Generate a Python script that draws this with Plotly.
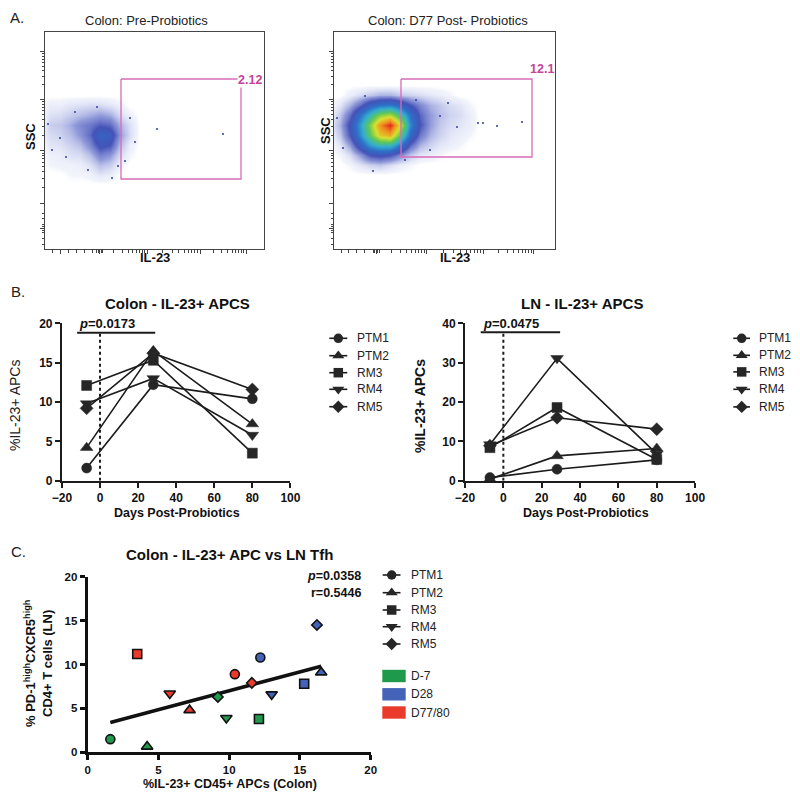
import math
import plotly.graph_objects as go

FONT = "Liberation Sans, Arial, Helvetica, sans-serif"
# The page body offsets the figure by 8px; the figure is sized so the page needs
# no scrollbars.  All coordinates below are page pixels.
OFF = 8
W, H = 784, 783

# ------------------------------------------------------------------ data
subjects = ["PTM1", "PTM2", "RM3", "RM4", "RM5"]
days = [-7, 28, 80]
day_labels = ["D-7", "D28", "D77/80"]
day_colors = ["#1f9a4c", "#4263b8", "#ea3a2c"]

# Panel B, Colon IL-23+ APCs (%), rows = subjects, cols = days
colon_il23 = [
    [1.6, 12.2, 10.4],
    [4.2, 16.5, 7.2],
    [12.1, 15.3, 3.5],
    [9.8, 13.0, 5.8],
    [9.2, 16.2, 11.6],
]
# Panel B, LN IL-23+ APCs (%)
ln_il23 = [
    [0.8, 2.9, 5.3],
    [0.4, 6.3, 8.2],
    [8.4, 18.6, 5.4],
    [9.2, 31.1, 6.8],
    [8.9, 16.0, 13.1],
]
# Panel C, LN Tfh (%) vs colon IL-23+ APCs
ln_tfh = [
    [1.5, 10.8, 8.9],
    [0.65, 9.1, 4.8],
    [3.8, 7.8, 11.2],
    [3.9, 6.6, 6.7],
    [6.3, 14.5, 7.9],
]
colon_p_text, colon_p_span, colon_p_level = "0.0173", [-12, 29], 18.8
ln_p_text, ln_p_span, ln_p_level = "0.0475", [-11.8, 29.6], 37.7
corr_p_text, corr_r_text = "0.0358", "0.5446"
fit_x = [1.6, 16.5]
fit_y = [3.4, 9.8]

# Panel A, flow plots (channel units), gates and event densities
gate_pre_pct, gate_post_pct = "2.12", "12.1"
gate_pre_x, gate_pre_y = [121, 241], [79, 179]
gate_post_x, gate_post_y = [401, 532], [79, 157]

pre_x = [40, 50, 60, 70, 80, 90, 100, 110, 120, 130, 140]
pre_y = [95, 105, 115, 125, 135, 145, 155, 165, 175, 185]
pre_density = [
    [0, 0, 0, 0, 0, 0, 0, 0, 0, 0, 0],
    [0, 0.2, 0.2, 0.3, 0.35, 0.4, 0.4, 0.3, 0.15, 0, 0],
    [0, 0.35, 0.4, 0.55, 0.7, 0.85, 1.0, 0.85, 0.4, 0.15, 0],
    [0, 0.55, 0.6, 0.85, 1.2, 1.4, 1.7, 1.55, 0.8, 0.35, 0],
    [0.15, 0.4, 0.5, 0.7, 1.05, 1.55, 2.6, 2.3, 1.0, 0.4, 0],
    [0, 0.3, 0.35, 0.5, 0.7, 1.2, 2.0, 1.8, 0.7, 0.2, 0],
    [0, 0.15, 0.2, 0.35, 0.4, 0.7, 1.3, 1.05, 0.4, 0.1, 0],
    [0, 0.1, 0.15, 0.15, 0.2, 0.35, 0.7, 0.55, 0.15, 0, 0],
    [0, 0, 0, 0.1, 0.1, 0.15, 0.3, 0.2, 0, 0, 0],
    [0, 0, 0, 0, 0, 0, 0, 0, 0, 0, 0],
]
pre_sparse_x = [157, 223, 125, 135, 48, 52, 66, 88, 130, 112, 75, 60, 97, 118]
pre_sparse_y = [129, 134, 161, 142, 124, 150, 157, 170, 118, 178, 112, 138, 107, 166]

post_x = [330, 340, 350, 360, 370, 380, 390, 400, 410, 420, 430, 440, 450, 460, 470, 480]
post_y = [85, 95, 105, 115, 125, 135, 145, 155, 165, 175]
post_density = [
    [0, 0, 0, 0, 0, 0, 0, 0, 0, 0, 0, 0, 0, 0, 0, 0],
    [0, 0, 0.2, 0.4, 0.6, 0.8, 0.8, 0.6, 0.5, 0.4, 0.3, 0.2, 0.1, 0, 0, 0],
    [0, 0.3, 0.8, 1.5, 2.5, 3.0, 3.2, 2.6, 1.8, 1.2, 0.8, 0.6, 0.4, 0.3, 0.1, 0],
    [0.1, 0.6, 1.5, 3.0, 4.5, 6.0, 6.5, 5.0, 3.0, 1.6, 1.0, 0.7, 0.5, 0.4, 0.2, 0],
    [0.2, 0.8, 2.0, 3.8, 6.0, 8.5, 10.0, 7.0, 3.5, 1.8, 1.0, 0.6, 0.4, 0.3, 0.2, 0],
    [0.1, 0.6, 1.8, 3.5, 5.5, 7.5, 8.0, 5.5, 2.8, 1.4, 0.8, 0.5, 0.3, 0.2, 0.1, 0],
    [0, 0.3, 1.0, 2.4, 3.8, 4.5, 4.5, 3.2, 1.6, 0.8, 0.5, 0.3, 0.2, 0.1, 0, 0],
    [0, 0.1, 0.4, 1.0, 1.8, 2.0, 1.8, 1.2, 0.6, 0.3, 0.2, 0.1, 0, 0, 0, 0],
    [0, 0, 0.1, 0.3, 0.5, 0.6, 0.4, 0.2, 0.1, 0, 0, 0, 0, 0, 0, 0],
    [0, 0, 0, 0, 0, 0, 0, 0, 0, 0, 0, 0, 0, 0, 0, 0],
]
post_sparse_x = [478, 483, 457, 430, 373, 343, 522, 497, 440, 337, 416, 448, 405, 365]
post_sparse_y = [123, 123, 127, 150, 171, 148, 122, 126, 116, 118, 100, 103, 160, 96]

# ------------------------------------------------------------------ styles
symbols = ["circle", "triangle-up", "square", "triangle-down", "diamond"]
b_sizes = [10, 11, 10, 11, 10]
c_sizes = [9, 10, 9, 10, 8]
INK = "#1c1c1c"
PINK_TXT = "#c4449a"
PINK_LINE = "#d86bb6"

flow_cs = [
    [0.0, "rgba(255,255,255,0)"],
    [0.01, "rgba(150,165,225,0.12)"],
    [0.05, "rgba(100,115,205,0.32)"],
    [0.10, "rgba(65,80,190,0.58)"],
    [0.18, "rgba(44,60,174,0.88)"],
    [0.30, "#2e6fc8"],
    [0.42, "#33b0cc"],
    [0.55, "#5cc65a"],
    [0.70, "#d8e030"],
    [0.85, "#f09020"],
    [1.0, "#e02818"],
]


def px_x(p):
    return (p - OFF) / W


def px_y(p):
    return 1 - (p - OFF) / H


fig = go.Figure()

# ------------------------------------------------------------------ panel A
for (ax, ay, gx, gy, dx, dy, dz, sx, sy) in [
    ("x", "y", gate_pre_x, gate_pre_y, pre_x, pre_y, pre_density, pre_sparse_x, pre_sparse_y),
    ("x2", "y2", gate_post_x, gate_post_y, post_x, post_y, post_density, post_sparse_x, post_sparse_y),
]:
    fig.add_trace(go.Heatmap(x=dx, y=dy, z=dz, zmin=0, zmax=10, colorscale=flow_cs,
                             zsmooth="best", showscale=False, hoverinfo="skip",
                             xaxis=ax, yaxis=ay))
    fig.add_trace(go.Scatter(x=sx, y=sy, mode="markers", xaxis=ax, yaxis=ay,
                             marker=dict(size=2.2, color="#3a4aa8"), hoverinfo="skip"))
    fig.add_trace(go.Scatter(x=[gx[0], gx[1], gx[1], gx[0], gx[0]],
                             y=[gy[0], gy[0], gy[1], gy[1], gy[0]],
                             mode="lines", line=dict(color=PINK_LINE, width=1.3),
                             xaxis=ax, yaxis=ay, hoverinfo="skip"))


def log_minor(a, b):
    return [a + (b - a) * math.log10(k) for k in range(2, 10)]


a_y_major = [51.7, 99.3, 150.7, 203.3, 228.3]
a_y_minor = (log_minor(203.3, 150.7) + log_minor(150.7, 99.3) + log_minor(99.3, 51.7)
             + [224.5, 226.5, 230.5, 232.5, 238, 244, 213, 218])
pre_x_major = [60, 99.3, 147, 200, 246]
pre_x_minor = (log_minor(99.3, 147) + log_minor(147, 200) + log_minor(200, 246)
               + [68, 76, 84, 92, 96.5, 98, 101, 102.5, 52])
post_x_major = [376, 426.7, 483.3, 533.3]
post_x_minor = (log_minor(376, 426.7) + log_minor(426.7, 483.3) + log_minor(483.3, 533.3)
                + [341, 348, 356, 364, 373, 374.5, 377.5, 379])


def flow_axis(dom, rng, major, minor):
    return dict(domain=dom, range=rng, showline=True, mirror=True, linecolor="#444",
                linewidth=1, ticks="outside", tickmode="array", tickvals=major,
                ticklen=4, tickwidth=1, tickcolor="#444", showticklabels=False,
                showgrid=False, zeroline=False, fixedrange=True, automargin=False,
                minor=dict(tickmode="array", tickvals=minor, ticks="outside",
                           ticklen=2.5, tickwidth=1, tickcolor="#444", showgrid=False))


A_ydom = [px_y(249), px_y(31.7)]
fig.update_layout(
    xaxis=dict(flow_axis([px_x(45), px_x(264)], [45, 264], pre_x_major, pre_x_minor), anchor="y"),
    yaxis=dict(flow_axis(A_ydom, [249, 31.7], a_y_major, a_y_minor), anchor="x"),
    xaxis2=dict(flow_axis([px_x(334), px_x(555)], [334, 555], post_x_major, post_x_minor), anchor="y2"),
    yaxis2=dict(flow_axis(A_ydom, [249, 31.7], a_y_major, a_y_minor), anchor="x2"),
)

# ------------------------------------------------------------------ panel B
for xa, ya, vals, span, level in [("x3", "y3", colon_il23, colon_p_span, colon_p_level),
                                  ("x4", "y4", ln_il23, ln_p_span, ln_p_level)]:
    fig.add_trace(go.Scatter(x=[0, 0], y=[0, level], mode="lines", xaxis=xa, yaxis=ya,
                             line=dict(color=INK, width=2, dash="dot"), hoverinfo="skip"))
    fig.add_trace(go.Scatter(x=span, y=[level, level], mode="lines", xaxis=xa, yaxis=ya,
                             line=dict(color=INK, width=2), hoverinfo="skip", cliponaxis=False))
    for i, s in enumerate(subjects):
        fig.add_trace(go.Scatter(
            x=days, y=vals[i], mode="lines+markers", name=s, xaxis=xa, yaxis=ya,
            cliponaxis=False,
            line=dict(color=INK, width=1.6),
            marker=dict(symbol=symbols[i], size=b_sizes[i], color="#262626",
                        line=dict(color="#262626", width=0.5))))

tickfont_b = dict(family=FONT, size=12, color="#111", weight="bold")


def b_axis(dom, rng, vals, anchor):
    return dict(domain=dom, range=rng, anchor=anchor, tickmode="array", tickvals=vals,
                ticks="outside", ticklen=5, tickwidth=2, tickcolor=INK,
                showline=True, linewidth=2, linecolor=INK, showgrid=False,
                zeroline=False, tickfont=tickfont_b, fixedrange=True, automargin=False)


B_ydom = [px_y(480.7), px_y(323.3)]
fig.update_layout(
    xaxis3=b_axis([px_x(61.9), px_x(290.4)], [-20, 100], [-20, 0, 20, 40, 60, 80, 100], "y3"),
    yaxis3=b_axis(B_ydom, [0, 20], [0, 5, 10, 15, 20], "x3"),
    xaxis4=b_axis([px_x(465), px_x(695.1)], [-20, 100], [-20, 0, 20, 40, 60, 80, 100], "y4"),
    yaxis4=b_axis(B_ydom, [0, 40], [0, 10, 20, 30, 40], "x4"),
)

# ------------------------------------------------------------------ panel C
fig.add_trace(go.Scatter(x=fit_x, y=fit_y, mode="lines", xaxis="x5", yaxis="y5",
                         line=dict(color="#111", width=3.5), hoverinfo="skip"))
for i, s in enumerate(subjects):
    fig.add_trace(go.Scatter(
        x=colon_il23[i], y=ln_tfh[i], mode="markers", name=s, xaxis="x5", yaxis="y5",
        cliponaxis=False,
        marker=dict(symbol=symbols[i], size=c_sizes[i], color=day_colors,
                    line=dict(color="#111", width=1.6))))

tickfont_c = dict(family=FONT, size=11.5, color="#111", weight="bold")
fig.update_layout(
    xaxis5=dict(domain=[px_x(87.7), px_x(370.7)], range=[0, 20], anchor="y5",
                tickmode="array", tickvals=[0, 5, 10, 15, 20], ticks="outside",
                ticklen=5, tickwidth=3, tickcolor="#111", showline=True, linewidth=3,
                linecolor="#111", showgrid=False, zeroline=False, tickfont=tickfont_c,
                fixedrange=True, automargin=False),
    yaxis5=dict(domain=[px_y(752.3), px_y(576.7)], range=[0, 20], anchor="x5",
                tickmode="array", tickvals=[0, 5, 10, 15, 20], ticks="outside",
                ticklen=5, tickwidth=3, tickcolor="#111", showline=True, linewidth=3,
                linecolor="#111", showgrid=False, zeroline=False, tickfont=tickfont_c,
                fixedrange=True, automargin=False),
    # overlay in page pixels for legends / labels
    xaxis6=dict(domain=[0, 1], range=[OFF, W + OFF], visible=False, anchor="y6",
                fixedrange=True, automargin=False),
    yaxis6=dict(domain=[0, 1], range=[H + OFF, OFF], visible=False, anchor="x6",
                fixedrange=True, automargin=False),
)

# ------------------------------------------------------------------ legends
legend_specs = [
    dict(x0=329.3, xc=338.3, x1=347.3, tx=356, rows=[338.3, 355.7, 372.7, 389.3, 406.7]),
    dict(x0=733.3, xc=741.7, x1=750.0, tx=758, rows=[338.3, 355.3, 371.9, 389.3, 406.9]),
    dict(x0=382.7, xc=391.7, x1=400.5, tx=410, rows=[575.0, 592.7, 610.0, 626.7, 644.0]),
]
LEG_FONT = dict(family=FONT, size=12, color="#222")
annotations = []
for spec in legend_specs:
    for i, s in enumerate(subjects):
        r = spec["rows"][i]
        fig.add_trace(go.Scatter(x=[spec["x0"], spec["x1"]], y=[r, r], mode="lines",
                                 xaxis="x6", yaxis="y6", line=dict(color=INK, width=1.6),
                                 hoverinfo="skip"))
        fig.add_trace(go.Scatter(x=[spec["xc"]], y=[r], mode="markers", xaxis="x6", yaxis="y6",
                                 marker=dict(symbol=symbols[i], size=b_sizes[i] - 0.5,
                                             color="#262626"), hoverinfo="skip"))
        annotations.append(dict(x=spec["tx"], y=r, xref="x6", yref="y6", text=s,
                                showarrow=False, xanchor="left", yanchor="middle",
                                borderpad=0, font=LEG_FONT))

shapes = []
box_rows = [676.0, 694.3, 712.5]
for j, lab in enumerate(day_labels):
    r = box_rows[j]
    shapes.append(dict(type="rect", xref="x6", yref="y6", x0=382.3, x1=405.7,
                       y0=r - 6.2, y1=r + 6.2, fillcolor=day_colors[j], line=dict(width=0)))
    annotations.append(dict(x=410, y=r, xref="x6", yref="y6", text=lab, showarrow=False,
                            xanchor="left", yanchor="middle", borderpad=0, font=LEG_FONT))


# ------------------------------------------------------------------ texts
def txt(x, y, text, size, bold=False, angle=0, xanchor="center", color="#111",
        yanchor="middle", **kw):
    d = dict(x=x, y=y, xref="x6", yref="y6", text=text, showarrow=False,
             xanchor=xanchor, yanchor=yanchor, textangle=angle,
             font=dict(family=FONT, size=size, color=color, weight="bold" if bold else "normal"))
    d.update(kw)
    annotations.append(d)


txt(8.5, 8, "A.", 15, xanchor="left", yanchor="top", color="#222", borderpad=0)
txt(8.5, 291.5, "B.", 15, xanchor="left", color="#222")
txt(8.5, 551, "C.", 15, xanchor="left", color="#222")

txt(146, 20, "Colon: Pre-Probiotics", 13, color="#222")
txt(447.5, 20, "Colon: D77 Post- Probiotics", 13, color="#222")
txt(30, 137, "SSC", 13, bold=True, angle=-90)
txt(325, 131, "SSC", 13, bold=True, angle=-90)
txt(155, 257, "IL-23", 13, bold=True)
txt(455, 257, "IL-23", 13, bold=True)
txt(236.5, 79.5, gate_pre_pct, 12.5, bold=True, xanchor="left", color=PINK_TXT,
    bgcolor="white", borderpad=0)
txt(527.5, 68.5, gate_post_pct, 12.5, bold=True, xanchor="left", color=PINK_TXT)

txt(177, 303, "Colon - IL-23+ APCS", 15, bold=True)
txt(582, 303, "LN - IL-23+ APCS", 15, bold=True)
txt(177, 513, "Days Post-Probiotics", 12.5, bold=True)
txt(586, 513, "Days Post-Probiotics", 12.5, bold=True)
txt(15, 406, "%IL-23+ APCs", 14, angle=-90, color="#222")
txt(420, 406, "%IL-23+ APCs", 14, bold=True, angle=-90)

txt(229.5, 554, "Colon - IL-23+ APC vs LN Tfh", 15, bold=True)
txt(230, 784, "%IL-23+ CD45+ APCs (Colon)", 12.5, bold=True)
txt(38, 664, "% PD-1<sup>high</sup>CXCR5<sup>high</sup><br>CD4+ T cells (LN)", 13,
    bold=True, angle=-90)
txt(363, 575.7, "<i>p</i>=" + corr_p_text, 12.5, bold=True, xanchor="right")
txt(363, 593, "r=" + corr_r_text, 12.5, bold=True, xanchor="right")

# p-value labels above the bars (data coordinates)
for xa, ya, span, level, ptxt in [("x3", "y3", colon_p_span, colon_p_level, colon_p_text),
                                  ("x4", "y4", ln_p_span, ln_p_level, ln_p_text)]:
    annotations.append(dict(x=span[0], y=level, xref=xa, yref=ya, text="<i>p</i>=" + ptxt,
                            showarrow=False, xanchor="left", yanchor="middle", yshift=9,
                            font=dict(family=FONT, size=13, color="#111", weight="bold")))

fig.update_layout(
    width=W, height=H,
    margin=dict(l=0, r=0, t=0, b=0, pad=0, autoexpand=False),
    paper_bgcolor="white", plot_bgcolor="rgba(0,0,0,0)",
    showlegend=False, annotations=annotations, shapes=shapes,
    font=dict(family=FONT, color="#111"),
)

fig.write_html("out.html")
